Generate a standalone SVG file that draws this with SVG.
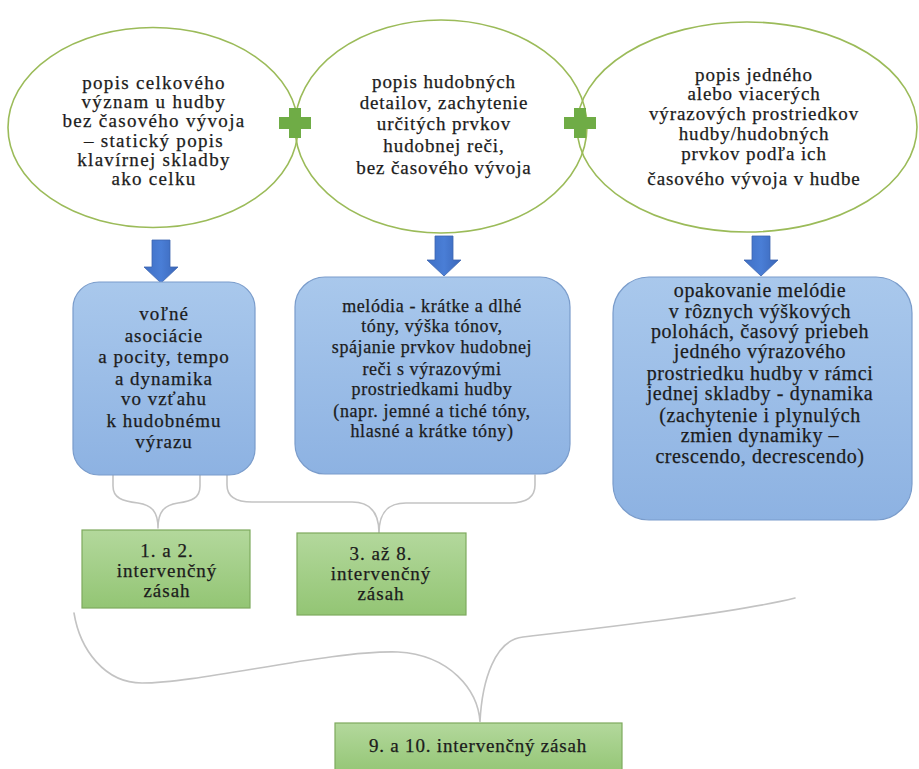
<svg xmlns="http://www.w3.org/2000/svg" width="919" height="769" viewBox="0 0 919 769">
<defs>
<style>
.oval{fill:none;stroke:#9BBB59;stroke-width:1.6}
.plus{fill:#6FAC46}
.arrow{fill:url(#gArrow);stroke:#3D66B0;stroke-width:0.8}
.bbox{fill:url(#gBlue);stroke:#7A9CCB;stroke-width:1.2}
.gbox{fill:url(#gGreen);stroke:#7EAA5E;stroke-width:1.2}
.conn{fill:none;stroke:#C3C3C3;stroke-width:1.6;stroke-linecap:round}
text{font-family:"Liberation Serif","Times New Roman",serif;fill:#1c1c1c;stroke:#1c1c1c;stroke-width:0.25;text-anchor:middle}
.t1{font-size:19px;letter-spacing:0.9px}
.t2{font-size:18px;letter-spacing:0.6px}
.t3{font-size:20px;letter-spacing:0.6px}
</style>
<linearGradient id="gBlue" x1="0" y1="0" x2="0" y2="1">
<stop offset="0" stop-color="#A9C8EC"/><stop offset="1" stop-color="#8DB2E2"/>
</linearGradient>
<linearGradient id="gGreen" x1="0" y1="0" x2="0" y2="1">
<stop offset="0" stop-color="#B3D89C"/><stop offset="1" stop-color="#93C574"/>
</linearGradient>
<linearGradient id="gArrow" x1="0" y1="0" x2="1" y2="0">
<stop offset="0" stop-color="#3F6FC4"/><stop offset="0.5" stop-color="#4A7ED6"/><stop offset="1" stop-color="#3A66B8"/>
</linearGradient>
</defs>
<rect width="919" height="769" fill="#FFFFFF"/>

<g id="connectors">
<path class="conn" d="M113,475 L113,486 C113,498 122,501 138,503 C152,505 158,512 158,528 M200,475 L200,486 C200,498 192,501 178,503 C164,505 158,512 158,528"/>
<path class="conn" d="M227,475 L227,485 C227,497 236,502 252,502 L352,502 C370,502 379,512 379,533 M535,475 L535,485 C535,497 526,503 510,503 L406,503 C388,503 379,512 379,533"/>
<path class="conn" d="M74,613 C80,650 105,683 142,683 C200,683 330,650 398,652 C450,655 478,690 480,722 C482,680 495,640 523,637 C600,628 740,612 795,598"/>
<path class="arrow" d="M152,240 L170,240 L170,267 L178,267 L161,283 L144,267 L152,267 Z"/>
<path class="arrow" d="M435,236 L453,236 L453,260 L461,260 L444,276 L427,260 L435,260 Z"/>
<path class="arrow" d="M752,236 L770,236 L770,260 L778,260 L761,276 L744,260 L752,260 Z"/>
</g>

<g id="oval1">
<ellipse class="oval" cx="153" cy="127.5" rx="145" ry="100"/>
<text class="t1" style="letter-spacing:1.3px"><tspan x="154" y="89">popis celkového</tspan><tspan x="154" y="108">význam u hudby</tspan><tspan x="154" y="127">bez časového vývoja</tspan><tspan x="154" y="147">– statický popis</tspan><tspan x="154" y="166">klavírnej skladby</tspan><tspan x="154" y="185">ako celku</tspan></text>
</g>
<g id="oval2">
<ellipse class="oval" cx="441" cy="126.5" rx="146" ry="106.5"/>
<text class="t1"><tspan x="444" y="88">popis hudobných</tspan><tspan x="444" y="109">detailov, zachytenie</tspan><tspan x="444" y="130">určitých prvkov</tspan><tspan x="444" y="152">hudobnej reči,</tspan><tspan x="444" y="174">bez časového vývoja</tspan></text>
</g>
<g id="oval3">
<ellipse class="oval" cx="747" cy="127" rx="170" ry="105"/>
<text class="t1"><tspan x="754" y="81">popis jedného</tspan><tspan x="754" y="100">alebo viacerých</tspan><tspan x="754" y="120">výrazových prostriedkov</tspan><tspan x="754" y="140">hudby/hudobných</tspan><tspan x="754" y="160">prvkov podľa ich</tspan><tspan x="754" y="185">časového vývoja v hudbe</tspan></text>
</g>
<g id="plus1"><path class="plus" d="M289,108 L301,108 L301,117 L311,117 L311,129 L301,129 L301,138 L289,138 L289,129 L279,129 L279,117 L289,117 Z"/></g>
<g id="plus2"><path class="plus" d="M574,108 L586,108 L586,117 L596,117 L596,129 L586,129 L586,138 L574,138 L574,129 L564,129 L564,117 L574,117 Z"/></g>

<g id="box1">
<rect class="bbox" x="73" y="282" width="182" height="193" rx="26"/>
<text class="t1" style="letter-spacing:1px"><tspan x="164" y="320">voľné</tspan><tspan x="164" y="342">asociácie</tspan><tspan x="164" y="363">a pocity, tempo</tspan><tspan x="164" y="385">a dynamika</tspan><tspan x="164" y="405">vo vzťahu</tspan><tspan x="164" y="427">k hudobnému</tspan><tspan x="164" y="448">výrazu</tspan></text>
</g>
<g id="box2">
<rect class="bbox" x="295" y="277" width="275" height="197" rx="30"/>
<text class="t2"><tspan x="432" y="312">melódia - krátke a dlhé</tspan><tspan x="432" y="332">tóny, výška tónov,</tspan><tspan x="432" y="353">spájanie prvkov hudobnej</tspan><tspan x="432" y="375">reči s výrazovými</tspan><tspan x="432" y="395">prostriedkami hudby</tspan><tspan x="432" y="417">(napr. jemné a tiché tóny,</tspan><tspan x="432" y="437">hlasné a krátke tóny)</tspan></text>
</g>
<g id="box3">
<rect class="bbox" x="613" y="277" width="299" height="243" rx="36"/>
<text class="t3"><tspan x="760" y="297">opakovanie melódie</tspan><tspan x="760" y="318">v rôznych výškových</tspan><tspan x="760" y="338">polohách, časový priebeh</tspan><tspan x="760" y="358">jedného výrazového</tspan><tspan x="760" y="380">prostriedku hudby v rámci</tspan><tspan x="760" y="400">jednej skladby - dynamika</tspan><tspan x="760" y="422">(zachytenie i plynulých</tspan><tspan x="760" y="442">zmien dynamiky –</tspan><tspan x="760" y="463">crescendo, decrescendo)</tspan></text>
</g>

<g id="step1">
<rect class="gbox" x="82" y="530" width="168" height="78"/>
<text class="t1" style="letter-spacing:1px"><tspan x="167" y="557">1. a 2.</tspan><tspan x="167" y="577">intervenčný</tspan><tspan x="167" y="597">zásah</tspan></text>
</g>
<g id="step2">
<rect class="gbox" x="297" y="533" width="169" height="82"/>
<text class="t1" style="letter-spacing:1px"><tspan x="381" y="560">3. až 8.</tspan><tspan x="381" y="580">intervenčný</tspan><tspan x="381" y="600">zásah</tspan></text>
</g>
<g id="step3">
<rect class="gbox" x="335" y="723" width="287" height="52"/>
<text class="t1" style="letter-spacing:0.8px" x="478" y="752">9. a 10. intervenčný zásah</text>
</g>
</svg>
